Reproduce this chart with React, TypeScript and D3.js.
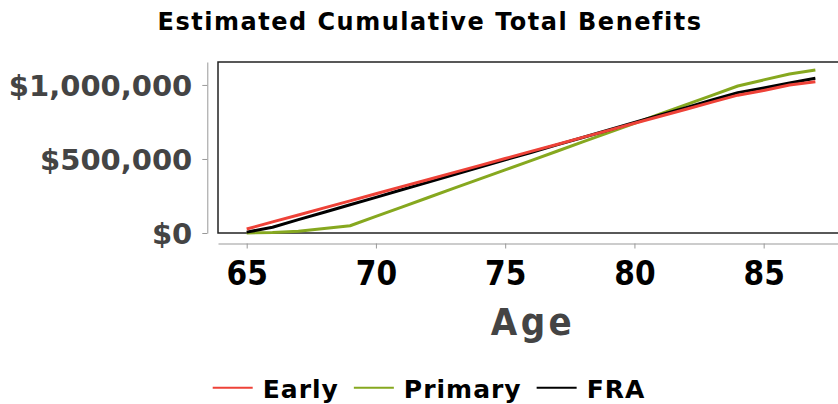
import * as d3 from "d3";
import { useEffect, useRef } from "react";

// ages on the x axis
const ages = [65, 66, 67, 68, 69, 70, 71, 72, 73, 74, 75, 76, 77, 78, 79, 80, 81, 82, 83, 84, 85, 86, 87];

// cumulative benefits in dollars
const early = [
  27000, 75000, 122000, 170000, 217000, 265000, 313000, 360000, 408000, 455000, 503000, 551000,
  598000, 646000, 693000, 741000, 789000, 836000, 884000, 931000, 963000, 1000000, 1022000,
];
const primary = [
  0, 3000, 12000, 30000, 49000, 112000, 175000, 238000, 301000, 364000, 426000, 489000, 552000,
  615000, 678000, 741000, 804000, 867000, 930000, 993000, 1034000, 1074000, 1101000,
];
const fra = [
  6000, 39000, 90000, 140000, 191000, 241000, 292000, 342000, 393000, 443000, 494000, 544000,
  595000, 645000, 696000, 746000, 797000, 847000, 898000, 948000, 980000, 1013000, 1045000,
];

const seriesNames = ["Early", "Primary", "FRA"];
const seriesColors = ["#ee4238", "#86a81f", "#000000"];

const xTicks = [65, 70, 75, 80, 85];
const yTicks = [0, 500000, 1000000];

const WIDTH = 838;
const HEIGHT = 404;
const PLOT = { left: 218, right: 850, top: 62, bottom: 233 };

export default function App() {
  const svgRef = useRef<SVGSVGElement>(null);

  useEffect(() => {
    const svg = d3.select(svgRef.current);
    svg.selectAll("*").remove();

    const x = d3.scaleLinear().domain([63.89, 88.34]).range([PLOT.left, PLOT.right]);
    const y = d3.scaleLinear().domain([0, 1155000]).range([PLOT.bottom, PLOT.top]);

    // title
    svg
      .append("text")
      .attr("x", 430)
      .attr("y", 30)
      .attr("text-anchor", "middle")
      .style("font-family", "DejaVu Sans")
      .style("font-weight", "bold")
      .style("font-size", "24px")
      .style("letter-spacing", "1.5px")
      .attr("fill", "#000")
      .text("Estimated Cumulative Total Benefits");

    // y axis
    const yAxis = svg
      .append("g")
      .attr("transform", "translate(207.3,0)")
      .call(
        d3
          .axisLeft(y)
          .tickValues(yTicks)
          .tickSize(5)
          .tickSizeOuter(0)
          .tickFormat((d) => "$" + d3.format(",")(d as number))
      );
    yAxis.select(".domain").attr("stroke", "#999");
    yAxis.selectAll(".tick line").attr("stroke", "#999");
    yAxis
      .selectAll(".tick text")
      .attr("x", -15)
      .attr("dy", "0.36em")
      .attr("fill", "#444")
      .style("font-family", "DejaVu Sans")
      .style("font-weight", "bold")
      .style("font-size", "29px");

    // x axis
    const xAxis = svg
      .append("g")
      .attr("transform", "translate(0,243.5)")
      .call(d3.axisBottom(x).tickValues(xTicks).tickSize(5).tickSizeOuter(0));
    xAxis.select(".domain").attr("stroke", "#999");
    xAxis.selectAll(".tick line").attr("stroke", "#999");
    xAxis
      .selectAll(".tick text")
      .attr("y", 41.2)
      .attr("dy", 0)
      .attr("fill", "#000")
      .style("font-family", "'DejaVu Sans Condensed', 'DejaVu Sans'")
      .style("font-stretch", "condensed")
      .style("font-weight", "bold")
      .style("font-size", "33px");

    svg
      .append("text")
      .attr("x", 533)
      .attr("y", 335)
      .attr("text-anchor", "middle")
      .attr("fill", "#444")
      .style("font-family", "'DejaVu Sans Condensed', 'DejaVu Sans'")
      .style("font-stretch", "condensed")
      .style("font-weight", "bold")
      .style("font-size", "38px")
      .style("letter-spacing", "3.5px")
      .text("Age");

    // plot frame
    svg
      .append("rect")
      .attr("x", PLOT.left)
      .attr("y", PLOT.top)
      .attr("width", PLOT.right - PLOT.left)
      .attr("height", PLOT.bottom - PLOT.top)
      .attr("fill", "none")
      .attr("stroke", "#222")
      .attr("stroke-width", 1.5);

    // lines, drawn primary first so red sits on top
    const series = [early, primary, fra];
    const line = d3
      .line<number>()
      .x((_, i) => x(ages[i]))
      .y((d) => y(d));
    [1, 2, 0].forEach((k) => {
      svg
        .append("path")
        .datum(series[k])
        .attr("d", line)
        .attr("fill", "none")
        .attr("stroke", seriesColors[k])
        .attr("stroke-width", 3)
        .attr("stroke-linejoin", "round");
    });

    // legend
    const legend = svg.append("g").attr("transform", "translate(212.7,387.7)");
    let cx = 0;
    seriesNames.forEach((name, k) => {
      legend
        .append("line")
        .attr("x1", cx)
        .attr("x2", cx + 40)
        .attr("y1", 0)
        .attr("y2", 0)
        .attr("stroke", seriesColors[k])
        .attr("stroke-width", 2);
      const t = legend
        .append("text")
        .attr("x", cx + 50)
        .attr("y", 10.6)
        .attr("fill", "#000")
        .style("font-family", "DejaVu Sans")
        .style("font-weight", "bold")
        .style("font-size", "25px")
        .style("letter-spacing", "1px")
        .text(name);
      const w = (t.node() as SVGTextElement).getComputedTextLength();
      cx += 50 + w + 15;
    });
  }, []);

  return (
    <svg
      ref={svgRef}
      width={WIDTH}
      height={HEIGHT}
      style={{ position: "absolute", left: 0, top: 0, background: "#fff" }}
    />
  );
}
